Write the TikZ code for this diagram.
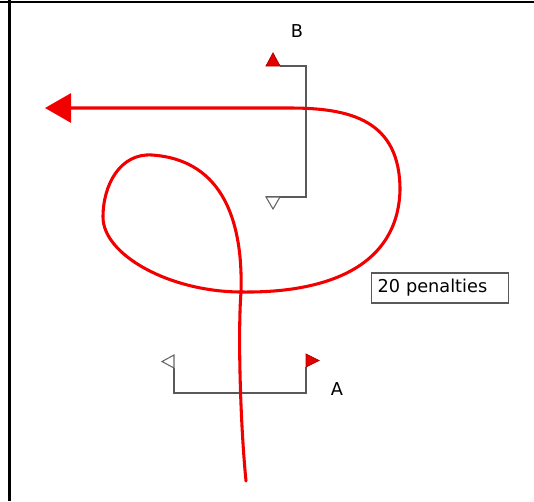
\documentclass[tikz,border=0pt]{standalone}
\usepackage{fontspec}
\setmainfont{DejaVu Sans}
\usepackage{tikz}
\usetikzlibrary{arrows.meta}
\tikzset{bracket/.style={draw=black!65, line width=1pt},
  redflag/.style={fill=red!90!black, draw=red!70!black, line width=0.6pt},
  whiteflag/.style={fill=white, draw=black!60, line width=0.8pt},
  label/.style={font=\fontsize{13.3}{15}\selectfont, inner sep=0pt},
  penbox/.style={draw=black!65, line width=0.8pt, font=\fontsize{13.3}{15}\selectfont,
    inner xsep=4.5pt, text width=93.75pt, align=left, minimum height=22.5pt, anchor=west},
  route/.style={draw=red!95!black, line width=2.3pt, line cap=round,
    -{Triangle[length=19.5pt, width=21.75pt]}}}

\begin{document}
\begin{tikzpicture}[x=0.75pt, y=-0.75pt]
\useasboundingbox (0,0) rectangle (534,501);
\draw[line width=2.1pt] (0,2) -- (534,2);
\draw[line width=2.3pt] (9.5,0) -- (9.5,501);

\node[label] (B) at (297,31) {B};
\node[label] (A) at (337,389) {A};
\node[penbox] (pen) at (371,288) {20 penalties};

\draw[bracket] (280,66) -- (306,66) -- (306,197) -- (266,197);
\filldraw[redflag] (266,66) -- (280,66) -- (273,53) -- cycle;
\draw[whiteflag] (266,197) -- (280,197) -- (273,209) -- cycle;

\draw[bracket] (174,368) -- (174,393) -- (306,393) -- (306,367);
\draw[whiteflag] (174,355) -- (174,368) -- (162,361.5) -- cycle;
\filldraw[redflag] (306,354) -- (306,367) -- (319,360.5) -- cycle;

\draw[route] (246,481) .. controls (240,420) and (238,330) .. (241,292)
  .. controls (243,225) and (225,160) .. (152,155)
  .. controls (120,153) and (103,185) .. (103,217)
  .. controls (103,255) and (170,292) .. (242,292)
  .. controls (330,293) and (398,265) .. (400,190)
  .. controls (400,120) and (350,108) .. (290,108) -- (45,108);
\end{tikzpicture}
\end{document}
